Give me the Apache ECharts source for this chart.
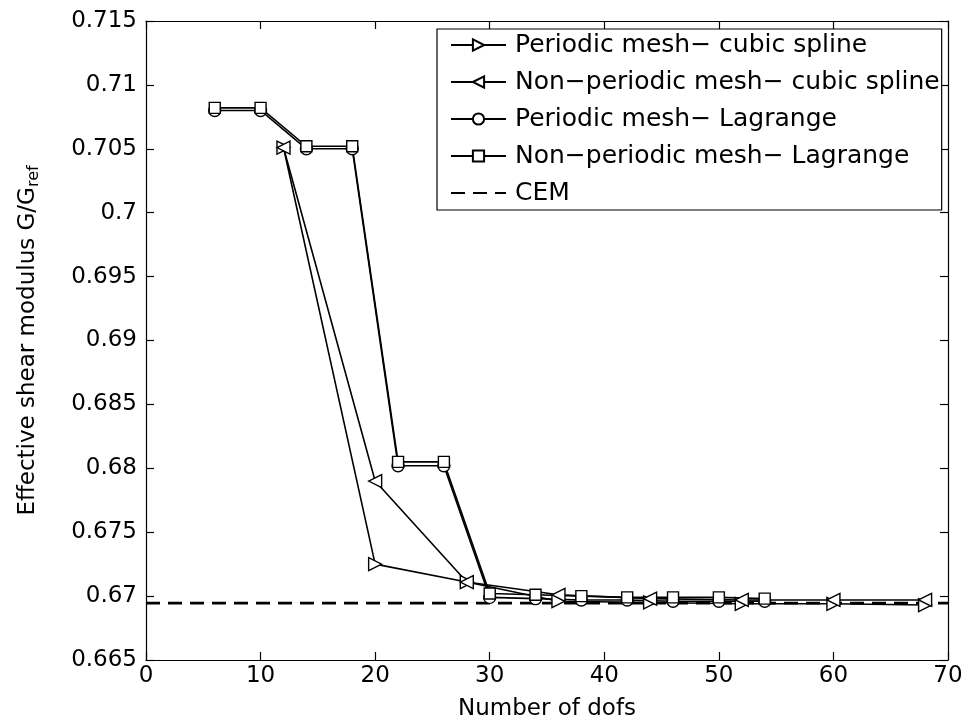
<!DOCTYPE html>
<html>
<head>
<meta charset="utf-8">
<script src="https://cdn.jsdelivr.net/npm/echarts@6/dist/echarts.min.js"></script>
<style>html,body{margin:0;padding:0;background:#fff}#c{width:973px;height:720px}</style>
</head>
<body>
<div id="c"></div>
<script>
// ---- data ----
const lagX = [6, 10, 14, 18, 22, 26, 30, 34, 38, 42, 46, 50, 54];
const periodicLagrange = [0.7080, 0.7080, 0.7050, 0.7050, 0.6802, 0.6802, 0.6699, 0.6698, 0.6697, 0.6697, 0.6696, 0.6696, 0.6696];
const nonPeriodicLagrange = [0.7082, 0.7082, 0.7052, 0.7052, 0.6805, 0.6805, 0.6702, 0.6701, 0.6700, 0.6699, 0.6699, 0.6699, 0.6698];
const splineX = [12, 20, 28, 36, 44, 52, 60, 68];
const periodicSpline = [0.7051, 0.6725, 0.6711, 0.6696, 0.6695, 0.6694, 0.6694, 0.6693];
const nonPeriodicSpline = [0.7051, 0.6790, 0.6711, 0.6701, 0.6698, 0.6697, 0.6697, 0.6697];
const cemX = [0, 70];
const cemY = [0.66945, 0.66945];
const seriesNames = ['Periodic mesh\u2212 cubic spline', 'Non\u2212periodic mesh\u2212 cubic spline', 'Periodic mesh\u2212 Lagrange', 'Non\u2212periodic mesh\u2212 Lagrange', 'CEM'];
const xTicks = [0, 10, 20, 30, 40, 50, 60, 70];
const yTicks = [0.665, 0.67, 0.675, 0.68, 0.685, 0.69, 0.695, 0.7, 0.705, 0.71, 0.715];

const pair = (xs, ys) => xs.map((x, i) => [x, ys[i]]);
const FONT = '"DejaVu Sans", "Liberation Sans", Arial, sans-serif';
const chart = echarts.init(document.getElementById('c'), null, {renderer: 'canvas'});

const baseLine = (name, data, symbol, size, rotate) => ({
  name, type: 'line', data: data, symbol, symbolSize: size, symbolRotate: rotate,
  showAllSymbol: true,
  lineStyle: {color: '#000', width: 1.6},
  itemStyle: {color: '#fff', borderColor: '#000', borderWidth: 1.4},
  emphasis: {disabled: true}, animation: false, z: 3
});

const mkLine = () => ({show: true, onZero: false, lineStyle: {color: '#000', width: 1.2}});
const mkTick = () => ({show: true, inside: true, length: 8, lineStyle: {color: '#000', width: 1.2}});

chart.setOption({
  backgroundColor: '#fff',
  animation: false,
  textStyle: {fontFamily: FONT},
  grid: {left: 146, right: 25, top: 21, bottom: 60, containLabel: false, outerBoundsMode: 'none'},
  legend: {
    orient: 'vertical', left: 437, top: 29,
    data: seriesNames.slice(0, 4).concat([{name: 'CEM', itemStyle: {opacity: 0}}]),
    backgroundColor: '#fff', borderColor: '#000', borderWidth: 1.2,
    padding: [3, 2, 4, 13],
    itemWidth: 55, itemHeight: 14, itemGap: 11,
    textStyle: {fontSize: 25, color: '#000', fontFamily: FONT, lineHeight: 26, padding: [0, 0, 0, 4]},
    selectedMode: false
  },
  xAxis: [
    {
      type: 'value', min: 0, max: 70, interval: 10, position: 'bottom',
      axisLine: mkLine(), axisTick: mkTick(), splitLine: {show: false},
      name: 'Number of dofs', nameLocation: 'middle', nameGap: 38,
      nameTextStyle: {fontSize: 23, color: '#000', fontFamily: FONT},
      axisLabel: {fontSize: 23, color: '#000', margin: 5, fontFamily: FONT,
        formatter: v => xTicks.includes(v) ? String(v) : ''}
    },
    {
      type: 'value', min: 0, max: 70, interval: 10, position: 'top',
      axisLine: mkLine(), axisTick: mkTick(), splitLine: {show: false},
      axisLabel: {show: false}
    }
  ],
  yAxis: [
    {
      type: 'value', min: 0.665, max: 0.715, interval: 0.005, position: 'left',
      axisLine: mkLine(), axisTick: mkTick(), splitLine: {show: false},
      name: 'Effective shear modulus G/G{sub|ref}', nameLocation: 'middle', nameGap: 104,
      nameTextStyle: {fontSize: 23, color: '#000', fontFamily: FONT,
        rich: {sub: {fontSize: 16, color: '#000', fontFamily: FONT, padding: [12, 0, 0, 0]}}},
      axisLabel: {fontSize: 23, color: '#000', margin: 9, fontFamily: FONT,
        formatter: v => {
          const t = yTicks.find(k => Math.abs(k - v) < 1e-9);
          return t === undefined ? '' : String(Number(t.toFixed(3)));
        }}
    },
    {
      type: 'value', min: 0.665, max: 0.715, interval: 0.005, position: 'right',
      axisLine: mkLine(), axisTick: mkTick(), splitLine: {show: false},
      axisLabel: {show: false}
    }
  ],
  series: [
    baseLine(seriesNames[0], pair(splineX, periodicSpline), 'triangle', 13, -90),
    baseLine(seriesNames[1], pair(splineX, nonPeriodicSpline), 'triangle', 13, 90),
    baseLine(seriesNames[2], pair(lagX, periodicLagrange), 'circle', 12, 0),
    baseLine(seriesNames[3], pair(lagX, nonPeriodicLagrange), 'rect', 11, 0),
    {
      name: seriesNames[4], type: 'line', data: pair(cemX, cemY), symbol: 'none',
      lineStyle: {color: '#000', width: 2.6, type: [14, 8]},
      itemStyle: {color: '#000'},
      emphasis: {disabled: true}, animation: false, z: 2
    }
  ]
});
</script>
</body>
</html>
